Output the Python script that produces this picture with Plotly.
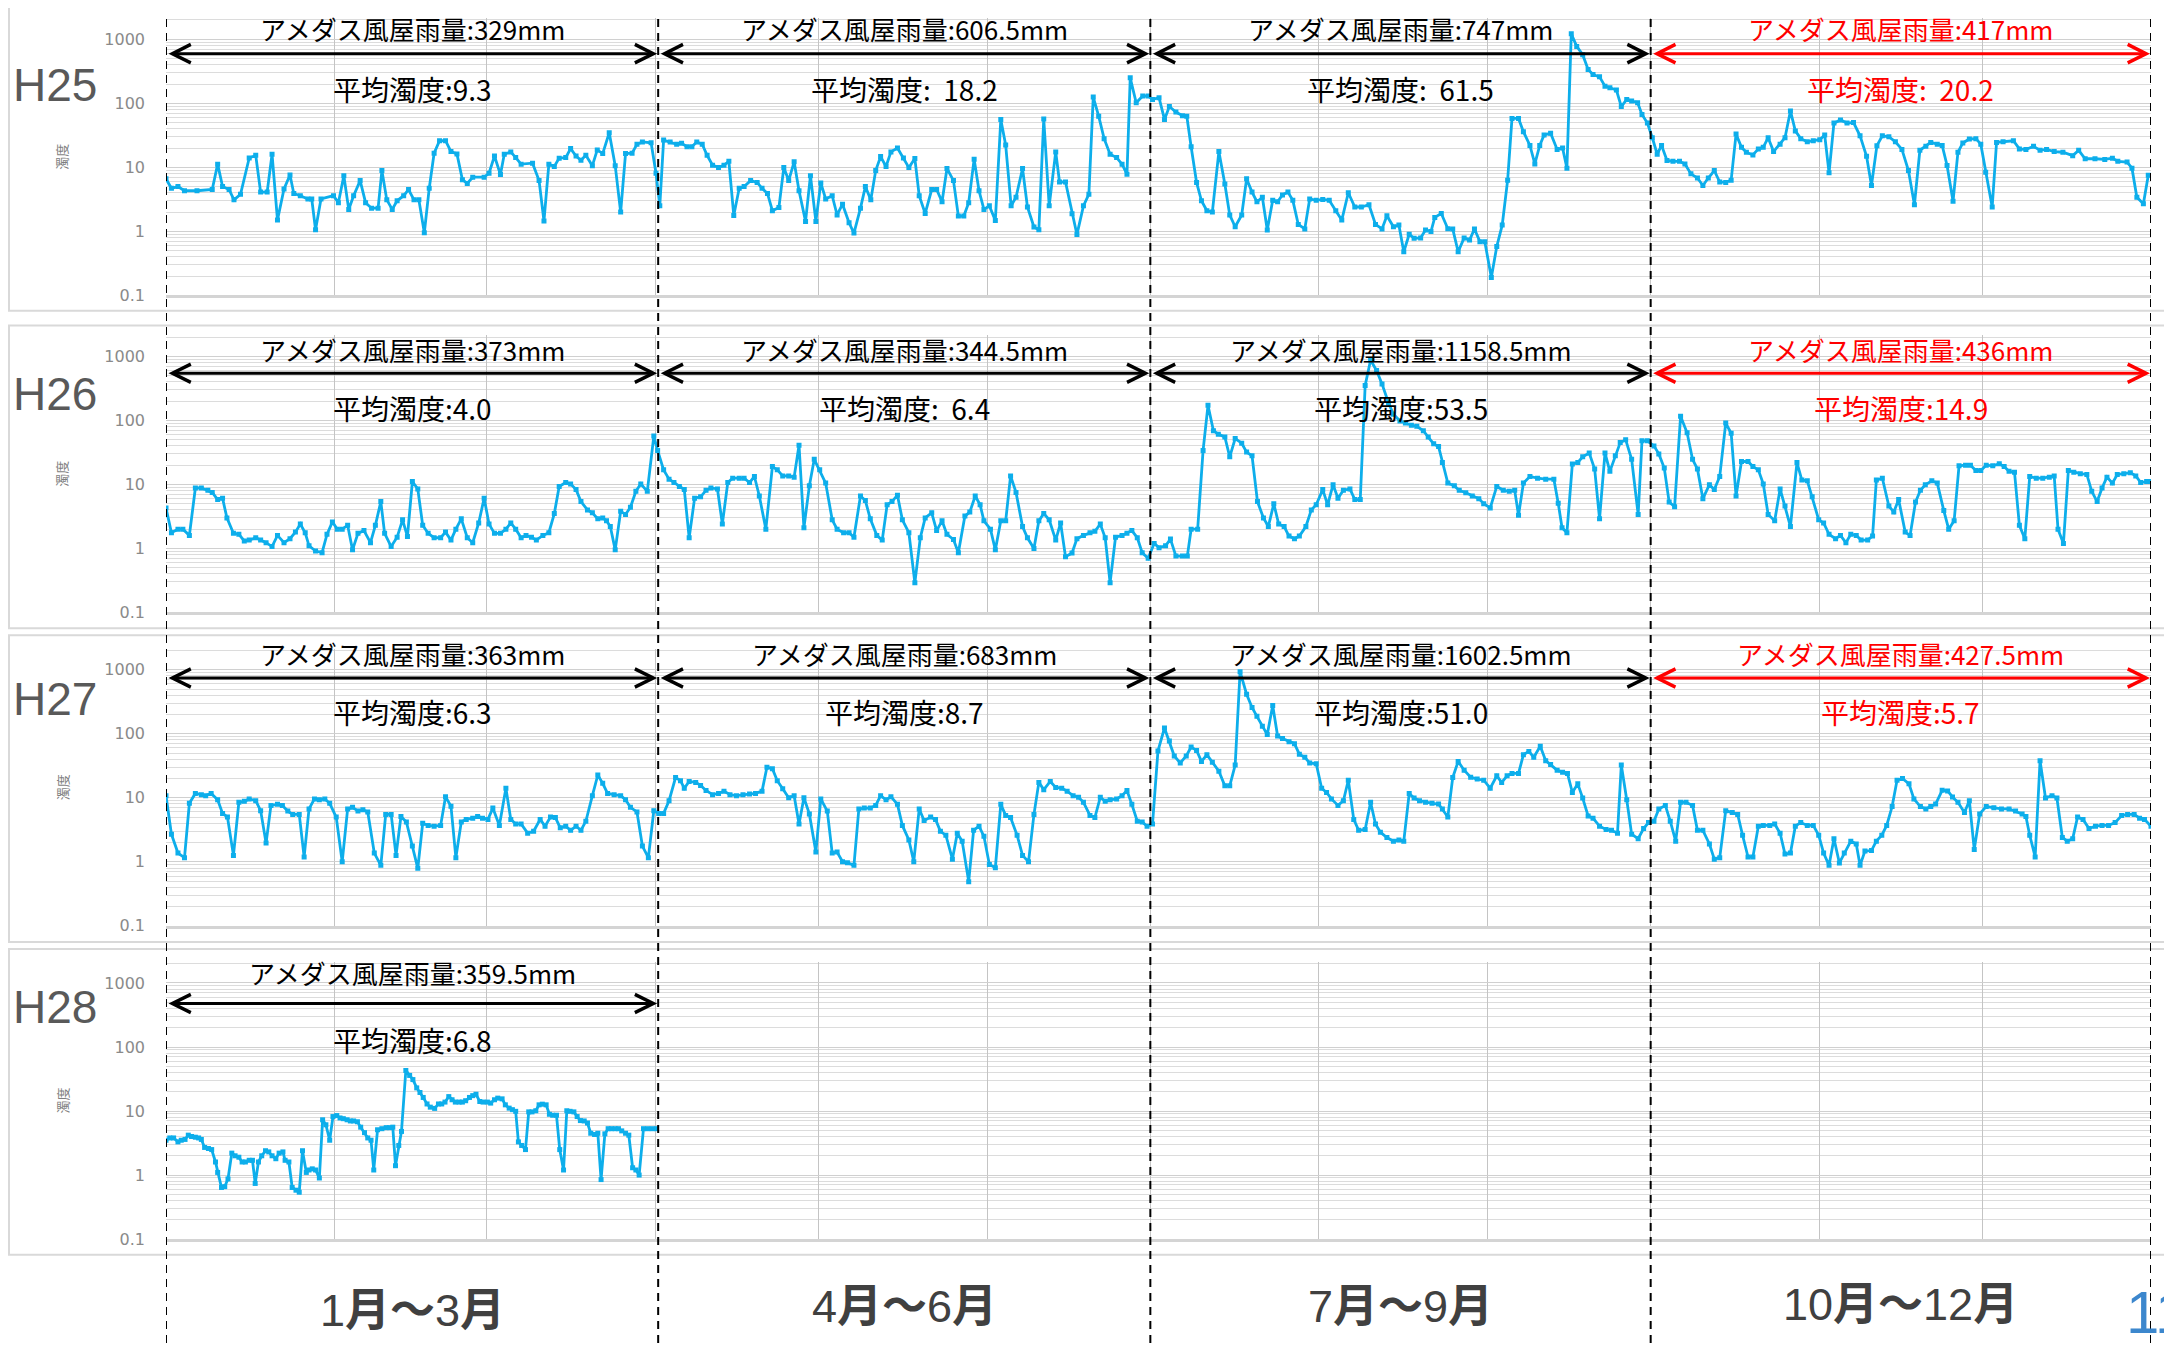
import plotly.graph_objects as go

W, H = 2172, 1353

YEARS = ["H25", "H26", "H27", "H28"]
QUARTER_LABELS = ["1<b>月～</b>3<b>月</b>", "4<b>月～</b>6<b>月</b>", "7<b>月～</b>9<b>月</b>", "10<b>月～</b>12<b>月</b>"]
MONTH_STARTS = [0, 31, 59, 90, 120, 151, 181, 212, 243, 273, 304, 334, 365]
QUARTER_BOUNDS = [0, 90.5, 181, 273, 365]

RAIN_H25 = ["329mm", "606.5mm", "747mm", "417mm"]
RAIN_H26 = ["373mm", "344.5mm", "1158.5mm", "436mm"]
RAIN_H27 = ["363mm", "683mm", "1602.5mm", "427.5mm"]
RAIN_H28 = ["359.5mm"]
NB = "\u00a0"
AVG_H25 = ["9.3", NB + NB + "18.2", NB + NB + "61.5", NB + NB + "20.2"]
AVG_H26 = ["4.0", NB + NB + "6.4", "53.5", "14.9"]
AVG_H27 = ["6.3", "8.7", "51.0", "5.7"]
AVG_H28 = ["6.8"]

H25_DAYS = [0, 1, 2.2, 3.4, 5.7, 8.5, 9.5, 10.4, 11.6, 12.5, 13.7, 15.3, 16.5, 17.4, 18.6, 19.5, 20.5, 21.7, 22.8, 23.5,
            24.7, 26.1, 26.8, 27.5, 28.5, 30.8, 31.7, 32.7, 33.6, 34.5, 35.7, 36.7, 37.8, 39, 39.7, 40.6, 41.6, 42.5,
            43.7, 44.6, 45.6, 46.5, 47.5, 48.4, 49.3, 50.3, 51.4, 52.4, 53.5, 54.5, 55.4, 56.4, 58.5, 59.4, 60.4, 61.5,
            62.2, 63.4, 64.3, 65.3, 67.4, 68.6, 69.5, 70.4, 71.4, 72.3, 73.5, 74.4, 75.4, 76.3, 77.2, 78.4, 79.3, 80.3,
            81.5, 82.6, 83.6, 84.5, 85.7, 86.6, 87.6, 89.2, 90.1, 90.8, 91.5, 92.7, 93.9, 94.8, 95.8, 96.7, 97.6, 98.6,
            99.5, 100.5, 101.6, 102.6, 103.5, 104.4, 105.4, 106.3, 107.5, 108.7, 109.6, 110.6, 111.5, 112.7, 113.6,
            114.5, 115.5, 116.4, 117.6, 118.5, 119.5, 120.4, 121.3, 122.5, 123.4, 124.4, 125.6, 126.5, 127.7, 128.6,
            129.6, 130.5, 131.4, 132.4, 133.3, 134.5, 135.6, 136.6, 137.7, 138.5, 139.6, 140.8, 141.7, 142.7, 143.6,
            144.8, 145.7, 146.7, 147.6, 148.6, 149.5, 150.4, 151.4, 152.5, 153.5, 154.4, 155.4, 156.3, 157.5, 158.4,
            159.6, 160.5, 161.4, 162.4, 163.6, 164.3, 165.4, 166.6, 167.5, 168.7, 169.7, 170.5, 171.5, 172.5, 173.6,
            174.8, 175.8, 176.7, 177.3, 178.4, 179.6, 180.6, 181.4, 182.6, 183.6, 184.5, 185.7, 186.9, 187.7, 188.5,
            189.5, 190.4, 191.4, 192.4, 193.6, 194.7, 195.6, 196.6, 197.8, 198.7, 199.7, 200.6, 201.6, 202.5, 203.5,
            204.4, 205.3, 206.3, 207.2, 208.2, 209.4, 210.3, 211.5, 212.7, 213.9, 215.1, 216.2, 217.4, 218.6, 219.8,
            221.2, 222.4, 223.6, 224.5, 225.7, 226.7, 227.6, 228.6, 229.5, 230.7, 231.6, 232.6, 233.3, 234.5, 235.7,
            236.6, 237.6, 238.7, 239.7, 240.6, 241.6, 242.5, 243.7, 244.7, 245.7, 246.7, 247.5, 248.7, 249.6, 250.8,
            251.7, 252.6, 253.4, 254.6, 255.8, 256.8, 257.6, 258.4, 259.4, 260.5, 261.5, 262.4, 263.6, 264.6, 265.5,
            266.7, 267.6, 268.6, 269.5, 270.6, 271.4, 272.4, 273.3, 274.2, 275.0, 276.0, 277.1, 278.3, 279.3, 280.4,
            281.6, 282.6, 283.6, 284.7, 285.7, 286.8, 287.8, 288.7, 289.7, 290.6, 291.8, 292.8, 293.7, 294.6, 295.6,
            296.8, 297.7, 298.7, 299.6, 300.6, 301.8, 302.9, 304.1, 305.0, 305.8, 306.7, 307.9, 309.1, 310.3, 311.5,
            312.7, 313.6, 314.6, 315.6, 316.8, 318.0, 319.2, 320.4, 321.5, 322.5, 323.6, 324.5, 325.7, 326.6, 327.5,
            328.6, 329.5, 330.4, 331.6, 332.8, 333.7, 334.6, 335.8, 336.6, 337.8, 339.7, 340.8, 342.0, 343.4, 344.6,
            345.8, 347.2, 348.8, 350.6, 351.7, 352.9, 354.7, 356.5, 357.9, 358.9, 360.6, 361.5, 362.4, 363.6, 364.5]
H25_TURB = [6.6, 4.7, 5.0, 4.3, 4.3, 4.5, 11.2, 5.0, 4.5, 3.1, 3.8, 14, 15.4, 4.1, 4.1, 16, 1.5, 4.6, 7.6, 3.9,
            3.6, 3.2, 3.2, 1.06, 3.2, 3.6, 2.8, 7.4, 2.2, 3.6, 6.2, 2.8, 2.3, 2.3, 8.9, 3.1, 2.2, 3.0,
            3.6, 4.5, 3.1, 3.1, 0.95, 4.7, 16.6, 26, 26, 17.6, 16.2, 6.4, 5.6, 7.0, 7.0, 8.1, 15, 7.7,
            16, 17.4, 14.2, 11.2, 11.6, 6.2, 1.45, 11.2, 10.3, 13.9, 14.2, 19.6, 15, 12.9, 15.4, 10.6, 18.7, 16.4,
            34.7, 10.6, 2.0, 16.4, 16.6, 22.9, 24.9, 24.2, 8.1, 2.5, 26.6, 24.9, 22.9, 23.7, 21, 21, 24.9, 22.9,
            15.4, 10.8, 9.9, 10.8, 12.4, 1.77, 4.7, 5.0, 6.2, 5.8, 4.7, 3.9, 2.1, 2.35, 9.9,
            6.2, 12.2, 4.3, 1.43, 7.4, 1.43, 5.7, 3.2, 3.6, 1.8, 2.65, 1.36, 0.94, 2.3, 5.0,
            3.1, 8.9, 14.7, 10.3, 17.4, 20, 14, 9.9, 13.7, 3.6, 1.9, 4.5, 4.5, 2.9, 9.6,
            6.2, 1.73, 1.73, 2.8, 13.4, 4.3, 2.2, 2.5, 1.48, 55.8, 22.3, 2.5, 3.4, 9.6, 2.4,
            1.17, 1.06, 56.9, 2.5, 17.4, 5.9, 5.9, 1.88, 0.89, 2.5, 3.8, 125, 63, 28, 16,
            14.2, 11.2, 7.8, 250, 102, 130, 130, 115, 122, 56, 89, 73, 64, 63, 21,
            5.8, 3.0, 2.1, 2.0, 17.6, 5.5, 1.8, 1.18, 1.8, 6.6, 4.1, 2.9, 3.4, 1.05, 3.05,
            2.9, 3.7, 4.1, 3.05, 1.28, 1.09, 3.2, 3.05, 3.15, 3.05, 2.1, 1.5, 4.0, 2.4, 2.4,
            2.6, 1.28, 1.09, 1.75, 1.18, 1.25, 0.48, 0.9, 0.78, 0.79, 1.05, 0.99, 1.65, 1.9, 1.1,
            1.09, 0.48, 0.79, 0.73, 1.09, 0.69, 0.69, 0.19, 0.58, 1.25, 6.3, 58, 58, 36, 22,
            11.3, 22, 32, 34, 19, 20, 9.7, 1216, 774, 575, 337, 282, 259, 185, 175,
            161, 89, 115, 109, 102, 67, 49, 29, 16, 22, 12.8, 12.4, 12.4, 11.3, 7.9,
            6.8, 5.2, 6.8, 8.9, 5.9, 5.8, 6.3, 33, 20.5, 17.2, 15.6, 19.4, 20.5, 29, 17.6,
            23, 29, 76, 37, 28, 25, 26, 27, 32, 8.2, 49, 55, 49, 50, 31,
            14.9, 5.2, 21.8, 31, 30, 25, 19, 8.9, 2.6, 18.4, 21.3, 24.5, 23, 22, 10.7,
            2.95, 17.2, 24, 27.7, 28, 23, 8.4, 2.4, 24.5, 25, 26, 19.4, 19, 21.3, 18.4,
            19, 17.6, 17.2, 15.2, 18.4, 13.6, 13.6, 13.3, 13.9, 12.4, 12.1, 9.7, 3.4, 2.7, 7.5]

H26_DAYS = [0, 1, 2.2, 3.1, 4.3, 5.4, 6.5, 7.7, 8.5, 9.5, 10.4, 11.2, 12.4, 13.4, 14.4, 15.3, 16.5, 17.4, 18.4, 19.5,
            20.5, 21.7, 22.8, 23.8, 24.7, 25.6, 26.3, 27.5, 28.7, 29.6, 30.6, 31.5, 32.4, 33.4, 34.3, 35.3, 36.4, 37.6,
            38.5, 39.5, 40.2, 41.4, 42.5, 43.5, 44.4, 45.3, 46.3, 47.2, 48.2, 49.3, 50.5, 51.4, 52.4, 53.3, 54.3, 55.4,
            56.4, 57.5, 58.5, 59.4, 60.4, 61.5, 62.5, 63.4, 64.3, 65.3, 66.2, 67.2, 68.1, 69.3, 70.4, 71.4, 72.3, 73.5,
            74.4, 75.4, 76.3, 77.5, 78.4, 79.4, 80.3, 81, 81.7, 82.6, 83.6, 84.5, 85.4, 86.4, 87.3, 88.5, 89.7, 90.4,
            91.5, 92.5, 93.4, 94.4, 95.3, 96.2, 97.2, 98.3, 99.3, 100.2, 101.4, 102.3, 103.3, 104.2, 105.4, 106.3,
            107.3, 108.2, 109.1, 110.3, 111.5, 112.4, 113.4, 114.5, 115.5, 116.4, 117.3, 118.3, 119.2, 120.2, 121.3,
            122.5, 123.4, 124.6, 125.6, 126.5, 127.7, 128.6, 129.5, 130.7, 131.7, 132.6, 133.5, 134.5, 135.4, 136.6,
            137.7, 138.7, 139.6, 140.8, 141.7, 142.7, 143.6, 144.8, 145.7, 146.9, 147.8, 148.8, 149.7, 150.4, 151.6,
            152.5, 153.5, 154.4, 155.3, 156.3, 157.5, 158.4, 159.6, 160.5, 161.4, 162.4, 163.6, 164.5, 165.4, 166.6,
            167.5, 168.7, 169.9, 170.8, 171.8, 172.7, 173.6, 174.6, 175.8, 176.7, 177.6, 178.6, 179.5, 180.6, 181.7,
            182.6, 183.8, 184.7, 185.7, 186.9, 187.8, 188.5, 189.7, 190.7, 191.6, 192.6, 193.5, 194.7, 195.6, 196.6,
            197.8, 198.7, 199.7, 200.7, 201.8, 202.7, 203.7, 204.6, 205.6, 206.5, 207.5, 208.4, 209.6, 210.6, 211.5,
            212.7, 213.6, 214.6, 215.5, 216.5, 217.7, 218.6, 219.6, 220.5, 221.5, 222.6, 223.6, 224.8, 225.7, 226.9,
            227.9, 229.0, 230.0, 231.2, 232.1, 233.1, 234.0, 234.7, 235.7, 236.9, 237.8, 239.0, 240.2, 241.4, 242.3,
            243.5, 244.7, 245.9, 247.0, 248.0, 248.7, 249.6, 250.8, 252.2, 253.7, 255.2, 256.0, 256.7, 257.6, 258.6,
            259.6, 260.5, 261.7, 262.7, 263.6, 264.6, 265.5, 266.5, 267.4, 268.4, 269.5, 270.7, 271.4, 272.4, 273.6,
            274.5, 275.5, 276.4, 277.4, 278.5, 279.7, 280.7, 281.6, 282.6, 283.8, 284.7, 285.7, 286.8, 287.8, 288.7,
            289.7, 290.9, 291.8, 292.8, 293.7, 294.6, 295.8, 296.8, 297.7, 298.7, 299.9, 300.8, 301.8, 302.7, 303.9,
            304.8, 305.8, 307.0, 307.9, 308.9, 309.8, 310.8, 311.7, 312.9, 313.8, 314.5, 315.6, 316.8, 317.7, 318.6,
            319.8, 320.7, 321.7, 322.6, 323.5, 324.7, 325.7, 326.9, 327.8, 328.8, 329.7, 330.9, 331.8, 332.8, 333.7,
            334.7, 335.9, 337.1, 338.0, 338.9, 339.9, 340.8, 341.8, 342.7, 343.9, 345.1, 346.3, 347.2, 347.9, 348.9,
            349.8, 350.8, 352.0, 353.2, 354.1, 355.1, 356.0, 356.9, 357.9, 358.8, 360.0, 361.2, 362.2, 363.1, 364.2, 365]
H26_TURB = [4.3, 1.76, 2.0, 2.0, 1.6, 8.8, 8.8, 8.1, 7.5, 5.8, 6.1, 3.0, 1.72, 1.66, 1.31, 1.35, 1.47, 1.35, 1.23, 1.07,
            1.6, 1.23, 1.42, 1.8, 2.4, 1.76, 1.1, 0.91, 0.86, 1.66, 2.6, 2.0, 2.0, 2.3, 0.95, 1.72, 1.9, 1.23,
            2.3, 5.4, 1.72, 1.07, 1.5, 2.8, 1.53, 11.1, 8.5, 2.3, 1.72, 1.47, 1.47, 1.8, 1.35, 2.0, 2.9, 1.47,
            1.23, 2.5, 6.1, 2.4, 1.72, 1.72, 2.0, 2.5, 2.0, 1.47, 1.6, 1.5, 1.35, 1.6, 1.76, 3.5, 9.3, 10.7,
            10.2, 8.3, 5.4, 4.0, 3.6, 2.9, 3.0, 2.7, 2.2, 0.95, 3.8, 3.4, 4.4, 7.8, 10.2, 7.8, 57, 34,
            16.9, 12.1, 10.7, 9.3, 8.3, 1.47, 6.1, 6.4, 8.1, 8.8, 8.5, 2.4, 10.7, 12.5, 12.5, 12.5,
            10.7, 13.3, 6.6, 2.0, 19, 16.9, 13.6, 13.6, 13, 41, 2.1, 9.5, 24.7, 16.9, 10.5,
            2.8, 2.0, 1.76, 1.76, 1.5, 6.6, 5.6, 2.9, 1.6, 1.35, 4.8, 5.4, 6.8, 2.8, 1.76,
            0.29, 1.47, 3.0, 3.6, 1.9, 2.7, 1.66, 1.38, 0.86, 3.2, 3.7, 6.6, 4.8, 2.7, 2.0,
            0.95, 2.7, 2.7, 13.6, 7.5, 2.2, 1.47, 1.0, 2.7, 3.5, 2.8, 1.35, 2.5, 0.74, 0.85,
            1.42, 1.6, 1.76, 1.85, 2.4, 1.47, 0.29, 1.5, 1.6, 1.72, 1.9, 1.47, 0.86, 0.7, 1.2,
            1.03, 1.1, 1.4, 0.76, 0.76, 0.76, 2.0, 2.0, 34, 172, 69, 61, 55, 27, 52,
            44, 32, 28, 5.4, 3.0, 2.2, 5.0, 2.4, 2.2, 1.56, 1.42, 1.56, 2.2, 4.0, 4.8,
            8.3, 4.8, 9.9, 6.1, 8.1, 8.5, 5.8, 5.8, 351, 877, 600, 372, 187, 125, 98,
            91, 84, 81, 69, 55, 43, 39, 22, 10.5, 9.5, 8.1, 7.4, 6.6, 6.0, 5.0,
            4.3, 9.3, 8.1, 7.8, 8.1, 3.3, 10.5, 13.3, 12.5, 12.1, 12.1, 5.1, 2.1, 1.76, 20.9,
            22, 27, 31, 17.4, 2.9, 31, 16, 28, 45, 50, 24.7, 3.4, 48, 48, 40,
            30, 18, 5.3, 4.5, 116, 64, 24.7, 17.4, 6.0, 9.9, 8.3, 13.3, 91, 63, 6.6,
            22.8, 22.8, 19, 16.9, 10.2, 3.4, 2.7, 8.5, 4.6, 2.2, 22, 11.7, 11.4, 6.4, 2.8,
            2.5, 1.66, 1.42, 1.6, 1.23, 1.66, 1.6, 1.35, 1.35, 1.56, 11.7, 12.5, 4.6, 3.7, 5.8,
            1.8, 1.6, 5.3, 8.1, 9.9, 11.4, 10.5, 3.9, 2.0, 2.7, 19.5, 20, 20, 16.5, 16.5,
            20, 19.5, 21, 19, 16, 15.5, 2.3, 1.42, 13.3, 12.5, 12.5, 13, 13.6, 2.0, 1.2,
            16.5, 15.5, 14.7, 14.3, 7.8, 5.4, 8.8, 13, 10.5, 14.3, 14.7, 15.2, 13.6, 10.7, 11.1, 11.1]

H27_DAYS = [0, 1, 2.2, 3.4, 4.3, 5.4, 6.5, 7.3, 8.3, 9.5, 10.4, 11.3, 12.4, 13.4, 14.4, 15.3, 16.5, 17.4, 18.4, 19.3,
            20.5, 21.4, 22.4, 23.3, 24.5, 25.4, 26.3, 27.3, 28.2, 29.2, 30.1, 31.3, 32.4, 33.4, 34.3, 35.3, 36.2, 37.1,
            38.3, 39.5, 40.4, 41.4, 42.3, 43.2, 44.2, 45.3, 46.3, 47.2, 48.2, 49.3, 50.5, 51.4, 52.4, 53.3, 54.3, 55.2,
            56.4, 57.3, 58.2, 59.2, 60.1, 61.3, 62.5, 63.4, 64.3, 65.3, 66.5, 67.6, 68.8, 69.7, 70.7, 71.6, 72.5, 73.5,
            74.4, 75.4, 76.3, 77.2, 78.4, 79.4, 80.3, 81.2, 82.4, 83.6, 84.5, 85.4, 86.6, 87.6, 88.7, 89.7, 90.6, 91.5,
            92.5, 93.7, 94.6, 95.3, 96.2, 97.4, 98.3, 99.3, 100.5, 101.6, 102.6, 103.7, 104.9, 106.1, 107.3, 108.4,
            109.6, 110.5, 111.5, 112.4, 113.4, 114.5, 115.5, 116.4, 117.3, 118.3, 119.5, 120.4, 121.6, 122.5, 123.4,
            124.4, 125.3, 126.5, 127.4, 128.4, 129.5, 130.5, 131.4, 132.4, 133.3, 134.5, 135.4, 136.6, 137.5, 138.5,
            139.4, 140.6, 141.5, 142.4, 143.4, 144.6, 145.5, 146.4, 147.6, 148.5, 149.5, 150.4, 151.4, 152.5, 153.5,
            154.4, 155.3, 156.5, 157.5, 158.6, 159.6, 160.5, 161.4, 162.6, 163.6, 164.7, 165.7, 166.8, 167.8, 168.7,
            169.9, 170.8, 171.8, 172.7, 173.6, 174.8, 175.8, 176.7, 177.6, 178.6, 179.5, 180.4, 181.4, 182.4, 183.6,
            184.5, 185.4, 186.5, 187.6, 188.5, 189.5, 190.4, 191.4, 192.4, 193.6, 194.7, 195.6, 196.6, 197.5, 198.7,
            199.7, 200.6, 201.6, 202.5, 203.5, 204.4, 205.3, 206.5, 207.5, 208.4, 209.4, 210.3, 211.5, 212.5, 213.4,
            214.3, 215.5, 216.5, 217.4, 218.4, 219.3, 220.5, 221.5, 222.4, 223.3, 224.5, 225.7, 226.7, 227.6, 228.6,
            229.5, 230.5, 231.6, 232.8, 234.0, 234.7, 235.7, 236.6, 237.6, 238.7, 239.9, 241.1, 242.3, 243.5, 244.7,
            245.6, 246.6, 247.5, 248.7, 249.6, 250.6, 251.5, 252.7, 253.7, 254.6, 255.8, 256.8, 257.7, 258.6, 259.6,
            260.5, 261.5, 262.4, 263.6, 264.8, 265.8, 266.9, 267.6, 268.6, 269.5, 270.7, 271.7, 272.6, 273.6, 274.5,
            275.7, 276.6, 277.6, 278.5, 279.5, 280.7, 281.6, 282.6, 283.8, 284.7, 285.7, 286.8, 288.0, 289.0, 289.9,
            290.9, 291.8, 292.8, 293.7, 294.9, 295.8, 296.8, 297.7, 298.7, 299.6, 300.6, 301.8, 302.9, 303.9, 304.8,
            305.8, 306.7, 307.7, 308.6, 309.8, 310.8, 311.5, 312.4, 313.6, 314.5, 315.5, 316.4, 317.4, 318.3, 319.3,
            320.5, 321.4, 322.6, 323.6, 324.5, 325.4, 326.6, 327.6, 328.5, 329.5, 330.7, 331.6, 332.5, 333.5, 334.7,
            336.1, 337.5, 338.9, 340.1, 341.3, 342.0, 342.7, 343.7, 344.6, 345.6, 346.8, 347.7, 348.7, 349.6, 350.6,
            351.5, 352.5, 353.6, 354.8, 356.0, 357.2, 358.4, 359.6, 360.7, 361.9, 362.9, 363.8, 365.0]
H27_TURB = [10.8, 2.7, 1.37, 1.16, 8.2, 11.7, 11.2, 10.8, 11.7, 9.3, 5.7, 5.0, 1.26, 8.5, 8.8, 9.6, 9.0, 6.3, 1.96, 7.6,
            7.9, 7.6, 6.2, 5.5, 5.5, 1.19, 6.7, 9.6, 9.3, 9.6, 8.2, 5.0, 1.0, 6.7, 7.1, 6.2, 6.5, 6.0,
            1.37, 0.88, 5.5, 5.5, 1.26, 5.1, 4.2, 1.76, 0.79, 4.0, 3.7, 3.6, 3.7, 10.4, 7.4, 1.16, 4.2, 4.6,
            4.8, 5.1, 4.8, 4.6, 6.9, 3.7, 14.1, 4.6, 3.9, 3.9, 2.8, 3.0, 4.6, 3.6, 5.0, 4.9, 3.4, 3.6,
            3.1, 3.6, 3.1, 4.3, 10.8, 22.7, 16.8, 11.7, 11.2, 10.8, 9.3, 7.1, 6.0, 1.76, 1.16, 6.3, 5.7, 5.7,
            9.0, 20.7, 18.5, 14.1, 18, 17.4, 15.6, 13, 11.2, 11.7, 12.7, 11.2, 10.8, 11.2, 11.5, 11.7,
            12.7, 30, 28.5, 18.5, 13.8, 10, 10.8, 3.9, 10, 5.6, 1.42, 9.6, 6.2, 1.37, 1.42,
            1.0, 0.97, 0.88, 6.7, 6.9, 6.9, 7.6, 10.8, 9.3, 10.4, 7.9, 3.7, 2.2, 1.0, 6.7,
            4.4, 5.0, 4.6, 3.0, 2.6, 1.1, 2.8, 2.1, 0.49, 3.1, 3.6, 2.5, 0.91, 0.81, 7.9,
            5.3, 4.9, 2.6, 1.26, 1.0, 5.5, 17.4, 13.4, 18, 14.5, 14.1, 12.7, 10.8, 10.2, 8.5,
            5.3, 4.9, 10.2, 8.8, 9.3, 9.6, 10.8, 13, 7.9, 4.3, 4.2, 3.6, 3.9, 54, 123,
            77, 45, 35, 45, 62, 55, 37, 47, 36, 26, 15.4, 15.4, 32.5, 933, 415,
            258, 187, 131, 97, 277, 92, 84, 75, 70, 48, 43, 35, 34, 14.1, 12.1,
            9.6, 7.6, 9.0, 18.8, 4.6, 3.1, 3.2, 8.5, 3.9, 2.9, 2.4, 2.1, 2.2, 2.1, 11.7,
            9.9, 9.0, 8.5, 8.2, 8.0, 6.7, 5.0, 20.7, 37, 27, 21, 19.6, 18.8, 14.1, 22,
            17.4, 22, 24, 24, 47, 53, 43, 64, 38, 33, 27, 25, 24, 12.1, 16.5,
            9.9, 5.2, 4.8, 3.6, 3.2, 3.1, 2.8, 32.5, 9.3, 2.7, 2.3, 3.3, 4.1, 4.3, 6.7,
            7.6, 4.3, 2.1, 8.5, 8.5, 7.6, 3.1, 3.1, 1.9, 1.1, 1.16, 6.3, 5.9, 5.5, 2.6,
            1.19, 1.19, 3.6, 3.7, 3.7, 3.9, 2.8, 1.32, 1.37, 3.6, 4.1, 3.7, 3.7, 2.6, 1.37,
            0.88, 2.3, 0.96, 1.37, 2.1, 1.9, 0.88, 1.47, 1.5, 2.1, 2.6, 3.7, 7.3, 18.8, 20,
            16.5, 9.6, 7.3, 6.7, 7.3, 8.0, 13.1, 12.8, 10.3, 8.5, 5.9, 9.0, 1.55, 5.6, 7.3,
            7.0, 6.7, 6.7, 6.2, 5.6, 5.1, 2.6, 1.19, 38, 9.9, 10.8, 9.9, 2.4, 2.1, 2.3,
            5.0, 4.6, 3.3, 3.6, 3.7, 3.7, 4.1, 5.3, 5.5, 5.5, 4.8, 4.6, 3.6]

H28_DAYS = [0, 0.7, 1.4, 2.2, 2.8, 3.5, 4.1, 4.7, 5.4, 6.0, 6.5, 7.1, 7.8, 8.4, 9.1, 9.5, 10.2, 10.8, 11.4, 12.1,
            12.7, 13.4, 14.0, 14.6, 15.3, 15.9, 16.4, 17.0, 17.6, 18.3, 18.9, 19.5, 20.2, 20.8, 21.5, 21.9, 22.6, 23.2,
            23.9, 24.5, 25.1, 25.8, 26.3, 26.9, 27.5, 28.2, 28.8, 29.4, 30.1, 30.7, 31.4, 32.0, 32.6, 33.3, 33.9, 34.5,
            35.2, 35.8, 36.5, 37.1, 37.7, 38.2, 38.9, 39.7, 40.5, 41.1, 41.7, 42.2, 42.8, 43.3, 44.1, 44.8, 45.4, 46.1,
            46.7, 47.3, 48.0, 48.6, 49.4, 50.1, 50.7, 51.3, 52.0, 52.6, 53.2, 53.9, 54.5, 55.1, 55.8, 56.4, 57.0, 57.7,
            58.3, 59.1, 59.7, 60.4, 61.0, 61.8, 62.4, 63.1, 63.7, 64.3, 64.8, 65.4, 66.1, 66.7, 67.3, 68.0, 68.6, 69.2,
            69.9, 70.5, 71.1, 71.8, 72.4, 73.1, 73.7, 74.3, 75.0, 75.6, 76.2, 76.9, 77.5, 78.1, 78.8, 79.4, 80.0, 80.7,
            81.3, 81.9, 82.6, 83.2, 83.8, 84.5, 85.1, 85.8, 86.4, 87.0, 87.8, 88.6, 89.4, 90.2]
H28_TURB = [3.5, 3.8, 3.8, 3.3, 3.5, 3.6, 4.2, 4.0, 3.9, 3.8, 3.6, 2.7, 2.6, 2.5, 1.6, 1.1, 0.64, 0.66, 0.87, 2.2,
            2.0, 1.9, 1.6, 1.6, 1.7, 1.7, 0.74, 1.6, 2.0, 2.4, 2.3, 2.0, 1.8, 2.2, 2.3, 1.7, 1.6, 0.64,
            0.58, 0.54, 2.4, 1.1, 1.2, 1.25, 1.2, 0.9, 7.3, 6.1, 3.5, 8.2, 8.5, 7.8, 7.6, 7.3, 7.0, 7.0,
            6.8, 5.6, 4.6, 3.8, 3.5, 1.2, 5.1, 5.3, 5.5, 5.5, 5.6, 1.4, 2.9, 4.8, 43, 36, 31, 23,
            19.5, 16.3, 12.9, 11.5, 11, 12.9, 12.9, 13.8, 16.8, 15.0, 13.8, 13.8, 13.8, 14.5, 16.3, 17.4, 18.3, 14.1,
            13.8, 13.8, 13.3, 15.0, 15.9, 15.5, 12.5, 11.1, 10.5, 9.9, 3.3, 2.9, 2.5, 9.7, 9.7, 10.1, 12.5, 12.8,
            12.5, 8.9, 8.6, 8.6, 2.5, 1.2, 10.1, 9.9, 9.7, 8.2, 7.1, 7.0, 6.5, 4.5, 4.3, 4.5, 0.85, 4.4,
            5.3, 5.3, 5.3, 5.3, 4.9, 4.5, 4.2, 1.3, 1.2, 1.0, 5.3, 5.3, 5.3, 5.3]

SERIES_DAYS = [H25_DAYS, H26_DAYS, H27_DAYS, H28_DAYS]
SERIES_TURB = [H25_TURB, H26_TURB, H27_TURB, H28_TURB]
RAIN = [RAIN_H25, RAIN_H26, RAIN_H27, RAIN_H28]
AVG = [AVG_H25, AVG_H26, AVG_H27, AVG_H28]

# ---------------- layout geometry (pixels of the 2172x1353 page) ----------------
BODY = 8                      # default page margin in front of the figure
FW, FH = W - BODY, H - BODY   # figure size so that it ends at the page edge
BLUE = "#0DAEEB"
PLOT_LEFT, PLOT_RIGHT = 166, 2151
DECADE = 64.5
Y_RANGE = [-1, 3.33]
PANEL_BOTTOM = [297.5, 617, 932.7, 1248.3]
FRAME = [(6, 313), (328, 633), (640, 949), (956, 1264)]
RAIN_Y = [29, 352, 658, 980]
ARROW_Y = [54, 376, 683, 1011]
AVG_Y = [90, 411, 717.5, 1047.5]
YEAR_Y = [86, 397, 704, 1014]


def py(p):
    return 1 - (p - BODY) / FH


def px(p):
    return (p - BODY) / FW


fig = go.Figure()
shapes = []
annotations = []
span = (Y_RANGE[1] - Y_RANGE[0]) * DECADE

for i in range(4):
    n = "" if i == 0 else str(i + 1)
    xa, ya = "x" + n, "y" + n
    bottom = PANEL_BOTTOM[i]
    top = bottom - span
    fig.add_trace(go.Scatter(
        x=SERIES_DAYS[i], y=SERIES_TURB[i], mode="lines+markers",
        line=dict(color=BLUE, width=2.8), marker=dict(color=BLUE, size=5, symbol="square"),
        xaxis=xa, yaxis=ya, showlegend=False, hoverinfo="x+y"))
    fig.layout["xaxis" + n] = dict(
        domain=[px(PLOT_LEFT), px(PLOT_RIGHT)], range=[0, 365], anchor=ya,
        tickmode="array", tickvals=MONTH_STARTS, showticklabels=False, ticks="",
        showgrid=True, gridcolor="#c4c4c4", gridwidth=1, zeroline=False,
        showline=True, linecolor="#d4d4d4", linewidth=3)
    fig.layout["yaxis" + n] = dict(
        domain=[py(bottom), py(top)], type="log", range=Y_RANGE, anchor=xa,
        dtick=1, exponentformat="none", showgrid=True, gridcolor="#d0d0d0", gridwidth=1,
        minor=dict(dtick="D1", showgrid=True, gridcolor="#dcdcdc", gridwidth=1),
        zeroline=False, showline=False, ticks="",
        tickfont=dict(family="DejaVu Sans", size=16, color="#8a8a8a"),
        ticklabelstandoff=20)
    # panel frame
    shapes.append(dict(type="rect", xref="paper", yref="paper",
                       x0=px(9), x1=px(2168), y0=py(FRAME[i][1]), y1=py(FRAME[i][0]),
                       line=dict(color="#d9d9d9", width=2), fillcolor="rgba(0,0,0,0)", layer="below"))
    # year label
    annotations.append(dict(text=YEARS[i], xref="paper", yref="paper", x=px(11), y=py(YEAR_Y[i]),
                            xanchor="left", yanchor="middle", showarrow=False,
                            font=dict(family="Liberation Sans", size=46, color="#595959")))
    # y-axis title
    annotations.append(dict(text="濁度", xref="paper", yref="paper", x=px(62), y=py((top + bottom) / 2),
                            xanchor="center", yanchor="middle", showarrow=False, textangle=-90,
                            font=dict(family="Noto Sans CJK JP", size=13, color="#7f7f7f")))
    for q in range(len(RAIN[i])):
        col = "#FF0000" if q == 3 else "#000000"
        x0, x1 = QUARTER_BOUNDS[q], QUARTER_BOUNDS[q + 1]
        mid = (x0 + x1) / 2
        annotations.append(dict(text="アメダス風屋雨量:" + RAIN[i][q], xref=xa, yref="paper",
                                x=mid, y=py(RAIN_Y[i]), xanchor="center", yanchor="middle",
                                showarrow=False, font=dict(family="Noto Sans CJK JP", size=26, color=col)))
        annotations.append(dict(text="平均濁度:" + AVG[i][q], xref=xa, yref="paper",
                                x=mid, y=py(AVG_Y[i]), xanchor="center", yanchor="middle",
                                showarrow=False, font=dict(family="Noto Sans CJK JP", size=28, color=col)))
        annotations.append(dict(text="", xref=xa, yref="paper", x=x1, y=py(ARROW_Y[i]),
                                axref=xa, ax=x0, ayref="pixel", ay=0, showarrow=True,
                                arrowhead=5, arrowsize=1.2, arrowwidth=3, arrowcolor=col,
                                arrowside="end+start", standoff=1, startstandoff=1))

# quarter boundary dashed lines spanning the whole page
for b in QUARTER_BOUNDS:
    shapes.append(dict(type="line", xref="x", yref="paper", x0=b, x1=b, y0=0, y1=py(17),
                       line=dict(color="black", width=2, dash="8px,6px"), layer="above"))

# quarter captions at the bottom
CAPTION_Y = [1320, 1316, 1316, 1314]
for q, lab in enumerate(QUARTER_LABELS):
    mid = (QUARTER_BOUNDS[q] + QUARTER_BOUNDS[q + 1]) / 2
    annotations.append(dict(text=lab, xref="x4", yref="paper", x=mid, y=py(CAPTION_Y[q]),
                            xanchor="center", yanchor="middle", showarrow=False,
                            font=dict(family="Liberation Sans, Noto Sans CJK JP", size=45, color="#404040")))

# page number (partially cut at the right edge)
annotations.append(dict(text="11", xref="paper", yref="paper", x=px(2124), y=py(1322),
                        xanchor="left", yanchor="middle", showarrow=False,
                        font=dict(family="Liberation Sans", size=60, color="#3c87cd")))

fig.update_layout(width=FW, height=FH, margin=dict(l=0, r=0, t=0, b=0),
                  paper_bgcolor="white", plot_bgcolor="white",
                  shapes=shapes, annotations=annotations, showlegend=False)

fig.write_html("out.html")
